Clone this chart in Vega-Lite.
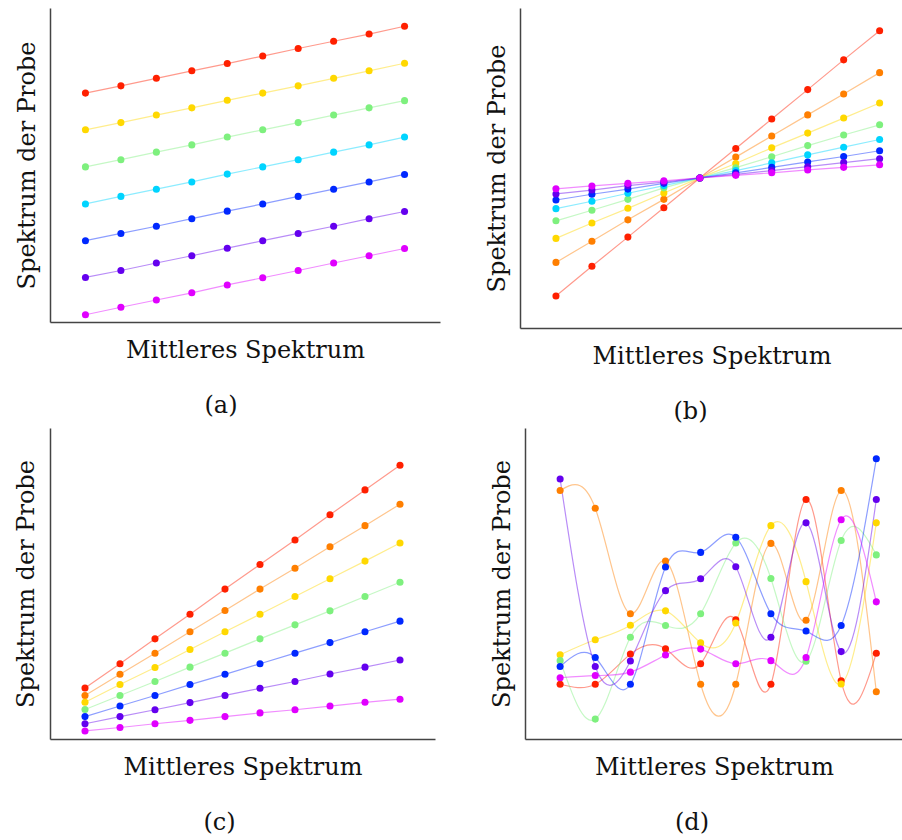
{
  "$schema": "https://vega.github.io/schema/vega-lite/v6.json",
  "background": "white",
  "padding": {"left": 14, "top": 8, "right": 0, "bottom": 0},
  "datasets": {
    "a": [
      {"x":1,"y":72.9,"s":"1"},{"x":2,"y":75.2,"s":"1"},{"x":3,"y":77.6,"s":"1"},{"x":4,"y":80.0,"s":"1"},{"x":5,"y":82.3,"s":"1"},{"x":6,"y":84.7,"s":"1"},{"x":7,"y":87.1,"s":"1"},{"x":8,"y":89.4,"s":"1"},{"x":9,"y":91.7,"s":"1"},{"x":10,"y":94.2,"s":"1"},
      {"x":1,"y":61.2,"s":"3"},{"x":2,"y":63.5,"s":"3"},{"x":3,"y":65.9,"s":"3"},{"x":4,"y":68.2,"s":"3"},{"x":5,"y":70.6,"s":"3"},{"x":6,"y":72.9,"s":"3"},{"x":7,"y":75.2,"s":"3"},{"x":8,"y":77.6,"s":"3"},{"x":9,"y":80.0,"s":"3"},{"x":10,"y":82.4,"s":"3"},
      {"x":1,"y":49.4,"s":"4"},{"x":2,"y":51.7,"s":"4"},{"x":3,"y":54.1,"s":"4"},{"x":4,"y":56.4,"s":"4"},{"x":5,"y":58.9,"s":"4"},{"x":6,"y":61.2,"s":"4"},{"x":7,"y":63.5,"s":"4"},{"x":8,"y":65.9,"s":"4"},{"x":9,"y":68.2,"s":"4"},{"x":10,"y":70.5,"s":"4"},
      {"x":1,"y":37.6,"s":"5"},{"x":2,"y":40.0,"s":"5"},{"x":3,"y":42.3,"s":"5"},{"x":4,"y":44.6,"s":"5"},{"x":5,"y":47.1,"s":"5"},{"x":6,"y":49.4,"s":"5"},{"x":7,"y":51.7,"s":"5"},{"x":8,"y":54.1,"s":"5"},{"x":9,"y":56.4,"s":"5"},{"x":10,"y":58.9,"s":"5"},
      {"x":1,"y":25.9,"s":"6"},{"x":2,"y":28.2,"s":"6"},{"x":3,"y":30.5,"s":"6"},{"x":4,"y":32.9,"s":"6"},{"x":5,"y":35.3,"s":"6"},{"x":6,"y":37.6,"s":"6"},{"x":7,"y":40.0,"s":"6"},{"x":8,"y":42.3,"s":"6"},{"x":9,"y":44.6,"s":"6"},{"x":10,"y":47.0,"s":"6"},
      {"x":1,"y":14.2,"s":"7"},{"x":2,"y":16.4,"s":"7"},{"x":3,"y":18.8,"s":"7"},{"x":4,"y":21.1,"s":"7"},{"x":5,"y":23.5,"s":"7"},{"x":6,"y":25.9,"s":"7"},{"x":7,"y":28.2,"s":"7"},{"x":8,"y":30.5,"s":"7"},{"x":9,"y":32.9,"s":"7"},{"x":10,"y":35.2,"s":"7"},
      {"x":1,"y":2.3,"s":"8"},{"x":2,"y":4.7,"s":"8"},{"x":3,"y":7.0,"s":"8"},{"x":4,"y":9.3,"s":"8"},{"x":5,"y":11.8,"s":"8"},{"x":6,"y":14.1,"s":"8"},{"x":7,"y":16.4,"s":"8"},{"x":8,"y":18.8,"s":"8"},{"x":9,"y":21.1,"s":"8"},{"x":10,"y":23.4,"s":"8"}
    ],
    "b": [
      {"x":1,"y":10.0,"s":"1"},{"x":2,"y":19.3,"s":"1"},{"x":3,"y":28.4,"s":"1"},{"x":4,"y":37.6,"s":"1"},{"x":5,"y":46.9,"s":"1"},{"x":6,"y":56.1,"s":"1"},{"x":7,"y":65.3,"s":"1"},{"x":8,"y":74.5,"s":"1"},{"x":9,"y":83.8,"s":"1"},{"x":10,"y":92.9,"s":"1"},
      {"x":1,"y":20.5,"s":"2"},{"x":2,"y":27.1,"s":"2"},{"x":3,"y":33.8,"s":"2"},{"x":4,"y":40.2,"s":"2"},{"x":5,"y":46.9,"s":"2"},{"x":6,"y":53.4,"s":"2"},{"x":7,"y":60.0,"s":"2"},{"x":8,"y":66.6,"s":"2"},{"x":9,"y":73.1,"s":"2"},{"x":10,"y":79.8,"s":"2"},
      {"x":1,"y":28.0,"s":"3"},{"x":2,"y":32.8,"s":"3"},{"x":3,"y":37.4,"s":"3"},{"x":4,"y":42.2,"s":"3"},{"x":5,"y":46.9,"s":"3"},{"x":6,"y":51.4,"s":"3"},{"x":7,"y":56.3,"s":"3"},{"x":8,"y":60.9,"s":"3"},{"x":9,"y":65.6,"s":"3"},{"x":10,"y":70.3,"s":"3"},
      {"x":1,"y":33.5,"s":"4"},{"x":2,"y":36.8,"s":"4"},{"x":3,"y":40.2,"s":"4"},{"x":4,"y":43.8,"s":"4"},{"x":5,"y":46.9,"s":"4"},{"x":6,"y":50.1,"s":"4"},{"x":7,"y":53.5,"s":"4"},{"x":8,"y":57.0,"s":"4"},{"x":9,"y":60.3,"s":"4"},{"x":10,"y":63.5,"s":"4"},
      {"x":1,"y":37.3,"s":"5"},{"x":2,"y":39.6,"s":"5"},{"x":3,"y":42.1,"s":"5"},{"x":4,"y":44.5,"s":"5"},{"x":5,"y":46.9,"s":"5"},{"x":6,"y":49.2,"s":"5"},{"x":7,"y":51.6,"s":"5"},{"x":8,"y":54.1,"s":"5"},{"x":9,"y":56.5,"s":"5"},{"x":10,"y":58.9,"s":"5"},
      {"x":1,"y":40.0,"s":"6"},{"x":2,"y":41.8,"s":"6"},{"x":3,"y":43.4,"s":"6"},{"x":4,"y":45.2,"s":"6"},{"x":5,"y":46.9,"s":"6"},{"x":6,"y":48.5,"s":"6"},{"x":7,"y":50.2,"s":"6"},{"x":8,"y":51.9,"s":"6"},{"x":9,"y":53.6,"s":"6"},{"x":10,"y":55.4,"s":"6"},
      {"x":1,"y":41.9,"s":"7"},{"x":2,"y":43.1,"s":"7"},{"x":3,"y":44.5,"s":"7"},{"x":4,"y":45.6,"s":"7"},{"x":5,"y":46.9,"s":"7"},{"x":6,"y":48.0,"s":"7"},{"x":7,"y":49.2,"s":"7"},{"x":8,"y":50.4,"s":"7"},{"x":9,"y":51.7,"s":"7"},{"x":10,"y":52.9,"s":"7"},
      {"x":1,"y":43.5,"s":"8"},{"x":2,"y":44.4,"s":"8"},{"x":3,"y":45.2,"s":"8"},{"x":4,"y":46.0,"s":"8"},{"x":5,"y":46.9,"s":"8"},{"x":6,"y":47.7,"s":"8"},{"x":7,"y":48.5,"s":"8"},{"x":8,"y":49.4,"s":"8"},{"x":9,"y":50.2,"s":"8"},{"x":10,"y":51.0,"s":"8"}
    ],
    "c": [
      {"x":1,"y":16.4,"s":"1"},{"x":2,"y":24.2,"s":"1"},{"x":3,"y":32.2,"s":"1"},{"x":4,"y":40.1,"s":"1"},{"x":5,"y":48.2,"s":"1"},{"x":6,"y":56.1,"s":"1"},{"x":7,"y":64.0,"s":"1"},{"x":8,"y":72.1,"s":"1"},{"x":9,"y":80.1,"s":"1"},{"x":10,"y":88.0,"s":"1"},
      {"x":1,"y":14.0,"s":"2"},{"x":2,"y":20.8,"s":"2"},{"x":3,"y":27.6,"s":"2"},{"x":4,"y":34.5,"s":"2"},{"x":5,"y":41.3,"s":"2"},{"x":6,"y":48.2,"s":"2"},{"x":7,"y":54.9,"s":"2"},{"x":8,"y":61.8,"s":"2"},{"x":9,"y":68.6,"s":"2"},{"x":10,"y":75.5,"s":"2"},
      {"x":1,"y":11.8,"s":"3"},{"x":2,"y":17.5,"s":"3"},{"x":3,"y":23.0,"s":"3"},{"x":4,"y":28.8,"s":"3"},{"x":5,"y":34.5,"s":"3"},{"x":6,"y":40.1,"s":"3"},{"x":7,"y":45.8,"s":"3"},{"x":8,"y":51.5,"s":"3"},{"x":9,"y":57.2,"s":"3"},{"x":10,"y":63.0,"s":"3"},
      {"x":1,"y":9.5,"s":"4"},{"x":2,"y":14.0,"s":"4"},{"x":3,"y":18.5,"s":"4"},{"x":4,"y":23.1,"s":"4"},{"x":5,"y":27.6,"s":"4"},{"x":6,"y":32.2,"s":"4"},{"x":7,"y":36.7,"s":"4"},{"x":8,"y":41.2,"s":"4"},{"x":9,"y":45.8,"s":"4"},{"x":10,"y":50.4,"s":"4"},
      {"x":1,"y":7.2,"s":"6"},{"x":2,"y":10.6,"s":"6"},{"x":3,"y":14.0,"s":"6"},{"x":4,"y":17.5,"s":"6"},{"x":5,"y":20.8,"s":"6"},{"x":6,"y":24.2,"s":"6"},{"x":7,"y":27.6,"s":"6"},{"x":8,"y":31.0,"s":"6"},{"x":9,"y":34.5,"s":"6"},{"x":10,"y":37.9,"s":"6"},
      {"x":1,"y":4.9,"s":"7"},{"x":2,"y":7.2,"s":"7"},{"x":3,"y":9.4,"s":"7"},{"x":4,"y":11.7,"s":"7"},{"x":5,"y":14.0,"s":"7"},{"x":6,"y":16.3,"s":"7"},{"x":7,"y":18.5,"s":"7"},{"x":8,"y":20.9,"s":"7"},{"x":9,"y":23.1,"s":"7"},{"x":10,"y":25.4,"s":"7"},
      {"x":1,"y":2.6,"s":"8"},{"x":2,"y":3.7,"s":"8"},{"x":3,"y":4.9,"s":"8"},{"x":4,"y":6.0,"s":"8"},{"x":5,"y":7.2,"s":"8"},{"x":6,"y":8.4,"s":"8"},{"x":7,"y":9.4,"s":"8"},{"x":8,"y":10.6,"s":"8"},{"x":9,"y":11.8,"s":"8"},{"x":10,"y":12.8,"s":"8"}
    ],
    "d": [
      {"x":1,"y":17.6,"s":"1"},{"x":2,"y":17.6,"s":"1"},{"x":3,"y":27.3,"s":"1"},{"x":4,"y":29.0,"s":"1"},{"x":5,"y":24.2,"s":"1"},{"x":6,"y":38.3,"s":"1"},{"x":7,"y":17.6,"s":"1"},{"x":8,"y":77.0,"s":"1"},{"x":9,"y":18.7,"s":"1"},{"x":10,"y":27.6,"s":"1"},
      {"x":1,"y":79.9,"s":"2"},{"x":2,"y":74.2,"s":"2"},{"x":3,"y":40.3,"s":"2"},{"x":4,"y":57.2,"s":"2"},{"x":5,"y":17.6,"s":"2"},{"x":6,"y":17.6,"s":"2"},{"x":7,"y":62.9,"s":"2"},{"x":8,"y":38.2,"s":"2"},{"x":9,"y":79.9,"s":"2"},{"x":10,"y":15.2,"s":"2"},
      {"x":1,"y":27.1,"s":"3"},{"x":2,"y":31.9,"s":"3"},{"x":3,"y":36.6,"s":"3"},{"x":4,"y":41.2,"s":"3"},{"x":5,"y":30.9,"s":"3"},{"x":6,"y":37.3,"s":"3"},{"x":7,"y":68.6,"s":"3"},{"x":8,"y":50.6,"s":"3"},{"x":9,"y":17.7,"s":"3"},{"x":10,"y":69.5,"s":"3"},
      {"x":1,"y":25.2,"s":"4"},{"x":2,"y":6.4,"s":"4"},{"x":3,"y":32.7,"s":"4"},{"x":4,"y":36.5,"s":"4"},{"x":5,"y":40.3,"s":"4"},{"x":6,"y":63.0,"s":"4"},{"x":7,"y":51.6,"s":"4"},{"x":8,"y":25.0,"s":"4"},{"x":9,"y":63.8,"s":"4"},{"x":10,"y":59.2,"s":"4"},
      {"x":1,"y":23.3,"s":"6"},{"x":2,"y":26.2,"s":"6"},{"x":3,"y":17.6,"s":"6"},{"x":4,"y":55.3,"s":"6"},{"x":5,"y":60.0,"s":"6"},{"x":6,"y":64.9,"s":"6"},{"x":7,"y":40.3,"s":"6"},{"x":8,"y":34.7,"s":"6"},{"x":9,"y":36.5,"s":"6"},{"x":10,"y":90.1,"s":"6"},
      {"x":1,"y":83.6,"s":"7"},{"x":2,"y":23.3,"s":"7"},{"x":3,"y":25.1,"s":"7"},{"x":4,"y":47.7,"s":"7"},{"x":5,"y":51.5,"s":"7"},{"x":6,"y":55.4,"s":"7"},{"x":7,"y":32.7,"s":"7"},{"x":8,"y":69.5,"s":"7"},{"x":9,"y":28.1,"s":"7"},{"x":10,"y":77.0,"s":"7"},
      {"x":1,"y":19.7,"s":"8"},{"x":2,"y":20.4,"s":"8"},{"x":3,"y":21.5,"s":"8"},{"x":4,"y":27.0,"s":"8"},{"x":5,"y":28.9,"s":"8"},{"x":6,"y":24.2,"s":"8"},{"x":7,"y":25.2,"s":"8"},{"x":8,"y":26.2,"s":"8"},{"x":9,"y":70.5,"s":"8"},{"x":10,"y":44.1,"s":"8"}
    ]
  },
  "config": {
    "view": {"stroke": null},
    "axis": {
      "grid": false, "ticks": false, "labels": false,
      "domainColor": "#444", "domainWidth": 1.5,
      "titleFont": "DejaVu Serif", "titleFontSize": 24, "titleFontWeight": "normal", "titleColor": "#111"
    },
    "axisX": {"titlePadding": 16},
    "axisY": {"titlePadding": 11},
    "title": {"orient": "bottom", "font": "DejaVu Serif", "fontSize": 24, "fontWeight": "normal", "color": "#111", "offset": 32},
    "legend": {"disable": true}
  },
  "vconcat": [
    {
      "spacing": 45,
      "hconcat": [
        {
          "width": 390, "height": 314,
          "data": {"name": "a"},
          "title": {"text": "(a)", "dx": -24},
          "encoding": {
            "x": {"field": "x", "type": "quantitative", "scale": {"domain": [0, 11], "nice": false, "zero": false}, "axis": {"title": "Mittleres Spektrum"}},
            "y": {"field": "y", "type": "quantitative", "scale": {"domain": [0, 100], "nice": false}, "axis": {"title": "Spektrum der Probe"}},
            "color": {"field": "s", "type": "nominal", "scale": {"domain": ["1","2","3","4","5","6","7","8"], "range": ["#ff2000","#ff7f00","#ffd800","#7ef07e","#00d4ff","#0028ff","#6400ee","#e000ff"]}, "legend": null}
          },
          "layer": [
            {"mark": {"type": "line", "strokeWidth": 1.2, "opacity": 0.45}},
            {"mark": {"type": "circle", "size": 50, "opacity": 1}}
          ]
        },
        {
          "width": 383, "height": 320,
          "data": {"name": "b"},
          "title": {"text": "(b)", "dx": -21},
          "encoding": {
            "x": {"field": "x", "type": "quantitative", "scale": {"domain": [0, 10.65], "nice": false, "zero": false}, "axis": {"title": "Mittleres Spektrum"}},
            "y": {"field": "y", "type": "quantitative", "scale": {"domain": [0, 100], "nice": false}, "axis": {"title": "Spektrum der Probe"}},
            "color": {"field": "s", "type": "nominal", "scale": {"domain": ["1","2","3","4","5","6","7","8"], "range": ["#ff2000","#ff7f00","#ffd800","#7ef07e","#00d4ff","#0028ff","#6400ee","#e000ff"]}, "legend": null}
          },
          "layer": [
            {"mark": {"type": "line", "strokeWidth": 1.2, "opacity": 0.45}},
            {"mark": {"type": "circle", "size": 50, "opacity": 1}}
          ]
        }
      ]
    },
    {
      "spacing": 55,
      "hconcat": [
        {
          "width": 385, "height": 311,
          "data": {"name": "c"},
          "title": {"text": "(c)", "dx": -23},
          "encoding": {
            "x": {"field": "x", "type": "quantitative", "scale": {"domain": [0, 11], "nice": false, "zero": false}, "axis": {"title": "Mittleres Spektrum"}},
            "y": {"field": "y", "type": "quantitative", "scale": {"domain": [0, 100], "nice": false}, "axis": {"title": "Spektrum der Probe", "titlePadding": 12}},
            "color": {"field": "s", "type": "nominal", "scale": {"domain": ["1","2","3","4","5","6","7","8"], "range": ["#ff2000","#ff7f00","#ffd800","#7ef07e","#00d4ff","#0028ff","#6400ee","#e000ff"]}, "legend": null}
          },
          "layer": [
            {"mark": {"type": "line", "strokeWidth": 1.2, "opacity": 0.45}},
            {"mark": {"type": "circle", "size": 50, "opacity": 1}}
          ]
        },
        {
          "width": 378, "height": 311,
          "data": {"name": "d"},
          "title": {"text": "(d)", "dx": -22},
          "encoding": {
            "x": {"field": "x", "type": "quantitative", "scale": {"domain": [0, 10.76], "nice": false, "zero": false}, "axis": {"title": "Mittleres Spektrum"}},
            "y": {"field": "y", "type": "quantitative", "scale": {"domain": [0, 100], "nice": false}, "axis": {"title": "Spektrum der Probe"}},
            "color": {"field": "s", "type": "nominal", "scale": {"domain": ["1","2","3","4","5","6","7","8"], "range": ["#ff2000","#ff7f00","#ffd800","#7ef07e","#00d4ff","#0028ff","#6400ee","#e000ff"]}, "legend": null}
          },
          "layer": [
            {"mark": {"type": "line", "strokeWidth": 1.2, "opacity": 0.45, "interpolate": "natural"}},
            {"mark": {"type": "circle", "size": 50, "opacity": 1}}
          ]
        }
      ]
    }
  ],
  "spacing": 4
}
